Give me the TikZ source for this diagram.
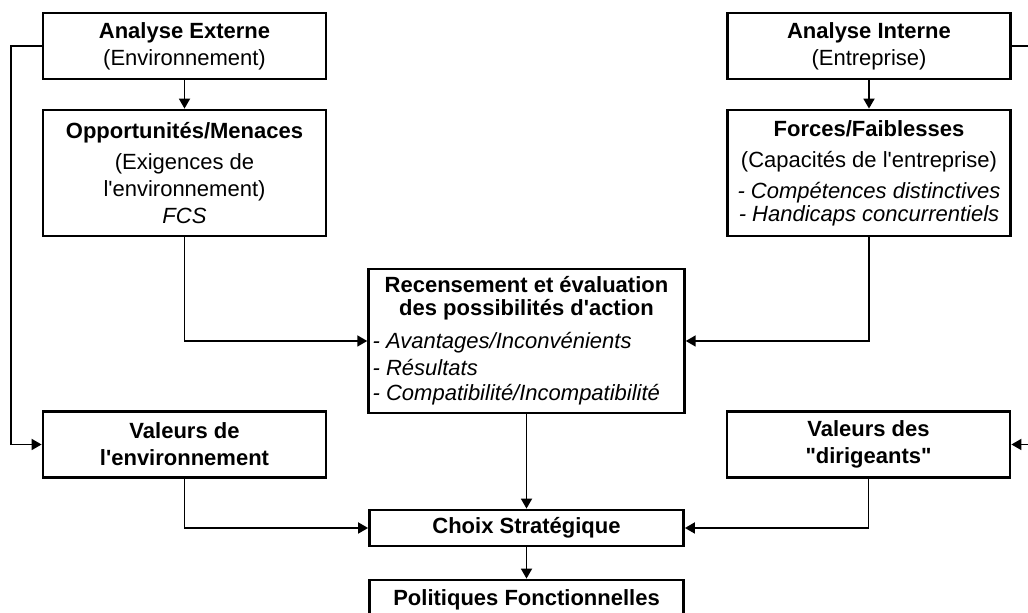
\documentclass[tikz,border=0pt]{standalone}
\usepackage{fontspec}
\setmainfont{Liberation Sans}[Ligatures=TeXOff]
\usepackage{tikz}
\usetikzlibrary{
  positioning,
  arrows.meta,
  calc
}

\begin{document}
\begin{tikzpicture}[
  x=0.5pt, y=-0.5pt,
  box/.style={draw, line width=1.4pt, minimum width=141.5pt, align=center,
              font=\fontsize{11}{13.5}\selectfont, inner sep=2pt},
  midbox/.style={box, minimum width=157pt},
  arr/.style={-{Triangle[length=5pt,width=5.5pt]}, line width=0.9pt},
  lnk/.style={line width=0.9pt}
]
  \useasboundingbox (0,0) rectangle (1028,613);
  \clip (0,0) rectangle (1028,613);

  % left column: environnement
  \node[box, minimum height=33pt] (externe) at (184.5,46)
    {\textbf{Analyse Externe}\\(Environnement)};
  \node[box, minimum height=63pt] (menaces) at (184.5,173)
    {\textbf{Opportunités/Menaces}\\[2pt](Exigences de\\l'environnement)\\\textit{FCS}};
  \node[box, minimum height=33pt] (valenv) at (184.5,444.5)
    {\textbf{Valeurs de}\\\textbf{l'environnement}};

  % right column: entreprise
  \node[box, minimum height=63pt] (forces) at (869,173)
    {\textbf{Forces/Faiblesses}\\[2pt](Capacités de l'entreprise)\\[2pt]%
     \textit{- Compétences distinctives}\\[-2pt]\textit{- Handicaps concurrentiels}};
  \node[box, minimum height=33pt] (interne) at (869,46)
    {\textbf{Analyse Interne}\\(Entreprise)};
  \node[box, minimum height=33pt] (valdir) at (868.5,444.5)
    {\textbf{Valeurs des}\\\textbf{"dirigeants"}};

  % centre
  \node[midbox, minimum height=72pt] (recens) at (526.5,341)
    {\begin{tabular}{@{}l@{}}
      \multicolumn{1}{c}{\textbf{Recensement et évaluation}}\\[-2pt]
      \multicolumn{1}{c}{\textbf{des possibilités d'action}}\\[3pt]
      \textit{- Avantages/Inconvénients}\\
      \textit{- Résultats}\\[-1pt]
      \textit{- Compatibilité/Incompatibilité}
     \end{tabular}};
  \node[midbox, minimum height=18pt] (choix) at (526.5,528)
    {\textbf{Choix Stratégique}};
  \node[midbox, minimum height=20pt] (politiques) at (526.5,600)
    {\textbf{Politiques Fonctionnelles}};

  \coordinate (bordA) at (1028,46);
  \coordinate (bordB) at (1028,444.5);

  \draw[arr] (externe) -- (menaces);
  \draw[arr] (interne) -- (forces);
  \draw[arr] (menaces.south) |- (recens.west);
  \draw[arr] (forces.south) |- (recens.east);
  \draw[arr] (recens) -- (choix);
  \draw[arr] (valenv.south) |- (choix.west);
  \draw[arr] (valdir.south) |- (choix.east);
  \draw[arr] (choix) -- (politiques);

  % liens lateraux
  \draw[arr] (externe.west) -- ++(-31,0) |- (valenv.west);
  \draw[lnk] (interne.east) -- (bordA);
  \draw[arr] (bordB) -- (valdir.east);
\end{tikzpicture}
\end{document}
